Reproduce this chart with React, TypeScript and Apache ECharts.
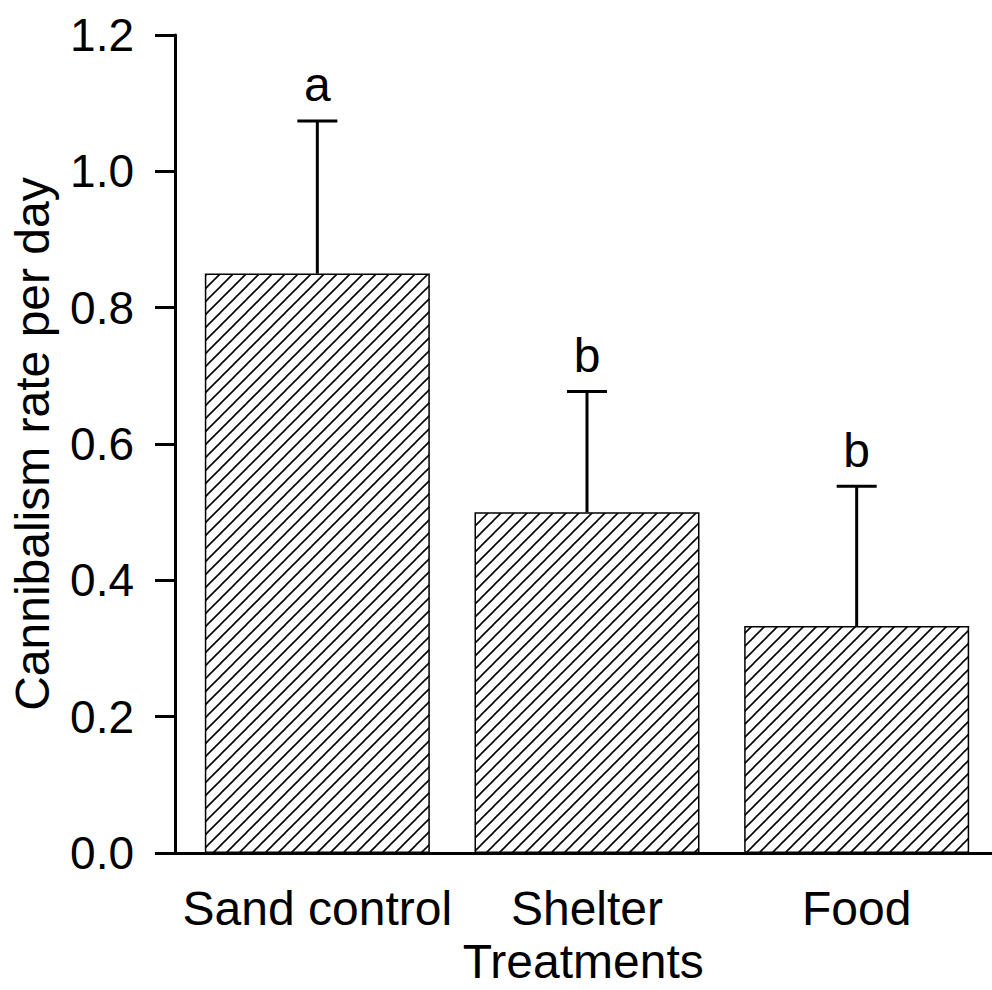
import React, { useEffect, useRef } from "react";
import * as echarts from "echarts";

const categories = ["Sand control", "Shelter", "Food"];
const means = [0.85, 0.5, 0.333];
const errors = [0.224, 0.177, 0.205];
const letters = ["a", "b", "b"];
const yTicks = { min: 0, max: 1.2, interval: 0.2 };

const FONT = "'Liberation Sans', Arial, sans-serif";
const W = 992;
const H = 990;
const GRID_LEFT = 174;
const GRID_RIGHT = 0.5;
const FIRST_CENTER = 316.5;
const STEP = 270;

function makeHatch(): HTMLCanvasElement {
  const s = 13;
  const c = document.createElement("canvas");
  c.width = s;
  c.height = s;
  const ctx = c.getContext("2d")!;
  ctx.fillStyle = "#fff";
  ctx.fillRect(0, 0, s, s);
  ctx.strokeStyle = "#000";
  ctx.lineWidth = 1.6;
  for (const k of [-s, 0, s]) {
    ctx.beginPath();
    ctx.moveTo(k - 3, s + 3);
    ctx.lineTo(k + s + 3, -3);
    ctx.stroke();
  }
  return c;
}

export default function App() {
  const ref = useRef<HTMLDivElement>(null);
  useEffect(() => {
    if (!ref.current) return;
    const chart = echarts.init(ref.current, undefined, { renderer: "svg" });
    const xMin = (GRID_LEFT - FIRST_CENTER) / STEP;
    const xMax = (W - GRID_RIGHT - FIRST_CENTER) / STEP;
    const hatch = makeHatch();
    chart.setOption({
      animation: false,
      backgroundColor: "#fff",
      grid: { left: GRID_LEFT, right: GRID_RIGHT, top: 35, bottom: H - 854 },
      xAxis: {
        type: "value",
        min: xMin,
        max: xMax,
        name: "Treatments",
        nameLocation: "middle",
        nameGap: 79,
        nameTextStyle: { color: "#000", fontSize: 48, fontFamily: FONT, lineHeight: 48 },
        axisLine: { show: true, onZero: false, lineStyle: { color: "#000", width: 3 } },
        axisTick: { show: false },
        splitLine: { show: false },
        axisLabel: {
          customValues: [0, 1, 2],
          formatter: (v: number) => categories[Math.round(v)] ?? "",
          color: "#000",
          fontSize: 48,
          lineHeight: 48,
          fontFamily: FONT,
          margin: 31,
        },
      },
      yAxis: {
        type: "value",
        min: yTicks.min,
        max: yTicks.max,
        interval: yTicks.interval,
        name: "Cannibalism rate per day",
        nameLocation: "middle",
        nameGap: 119,
        nameTextStyle: { color: "#000", fontSize: 48, fontFamily: FONT, lineHeight: 48 },
        axisLine: { show: true, onZero: false, lineStyle: { color: "#000", width: 3 } },
        axisTick: { show: true, length: 20, lineStyle: { color: "#000", width: 3 } },
        splitLine: { show: false },
        axisLabel: {
          formatter: (v: number) => v.toFixed(1),
          color: "#000",
          fontSize: 46,
          lineHeight: 46,
          fontFamily: FONT,
          margin: 41,
        },
      },
      series: [
        {
          type: "bar",
          barWidth: 225,
          data: means.map((m, i) => [i, m]),
          itemStyle: {
            color: { image: hatch, repeat: "repeat" },
            borderColor: "#000",
            borderWidth: 1.5,
          },
        },
        {
          type: "custom",
          clip: false,
          data: means.map((m, i) => [i, m, errors[i]]),
          renderItem: (params: any, api: any) => {
            const x = api.value(0);
            const m = api.value(1);
            const e = api.value(2);
            const p0 = api.coord([x, m]);
            const p1 = api.coord([x, m + e]);
            const st = { stroke: "#000", lineWidth: 3 };
            return {
              type: "group",
              children: [
                { type: "line", shape: { x1: p0[0], y1: p0[1], x2: p1[0], y2: p1[1] }, style: st },
                { type: "line", shape: { x1: p1[0] - 20, y1: p1[1], x2: p1[0] + 20, y2: p1[1] }, style: st },
                {
                  type: "text",
                  x: p1[0],
                  y: p1[1] - 12,
                  style: {
                    text: letters[params.dataIndex],
                    fill: "#000",
                    fontSize: 48,
                    lineHeight: 48,
                    fontFamily: FONT,
                    align: "center",
                    verticalAlign: "bottom",
                  },
                },
              ],
            };
          },
        },
      ],
    });
    return () => chart.dispose();
  }, []);
  return (
    <div
      ref={ref}
      style={{ position: "fixed", left: 0, top: 0, width: W, height: H, background: "#fff" }}
    />
  );
}
